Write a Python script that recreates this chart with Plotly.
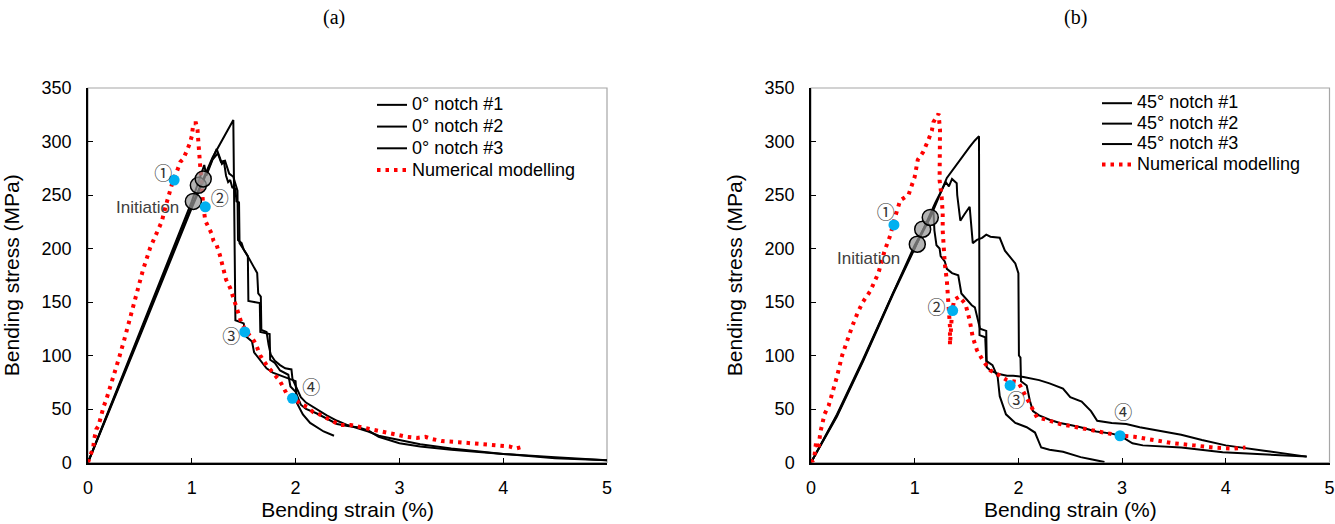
import plotly.graph_objects as go

# ---------------- Panel (a): 0° notch ----------------
a1_x = [0, 0.5, 1.0, 1.2, 1.40, 1.42, 1.50, 1.52, 1.58, 1.60, 1.65, 1.72, 1.78, 1.90, 2.00, 2.01, 2.07, 2.14, 2.27, 2.37]
a1_y = [0, 120, 240, 285, 320, 133, 130, 118, 113, 103, 97, 88, 84, 80, 76, 56, 45, 37, 29, 25]

a2_x = [0, 0.5, 1.0, 1.24, 1.27, 1.29, 1.31, 1.33, 1.35, 1.37, 1.39, 1.42, 1.43, 1.455, 1.46, 1.49, 1.52, 1.54,
        1.545, 1.60, 1.655, 1.66, 1.75, 1.755, 1.80, 1.85, 1.93, 1.95, 2.0, 2.05, 2.1, 2.2, 2.3, 2.4, 2.5, 2.6,
        2.7, 2.8, 2.9, 3.0, 3.2, 3.5, 4.0, 4.5, 5.0]
a2_y = [0, 118, 238, 293, 285, 279, 281, 268, 262, 264, 257, 256, 244, 243, 205, 201, 196, 193,
        151, 150, 149, 122, 120, 96, 93, 86, 82, 71, 66, 54, 50, 46, 41, 36, 34, 33,
        30, 24, 21, 18, 15, 12, 8, 4, 2]

a3_x = [0, 0.5, 1.0, 1.12, 1.14, 1.20, 1.25, 1.28, 1.32, 1.36, 1.40, 1.44, 1.445, 1.48, 1.50, 1.55, 1.58, 1.61,
        1.63, 1.64, 1.665, 1.67, 1.72, 1.74, 1.76, 1.80, 1.85, 1.90, 1.96, 1.97, 2.0, 2.05, 2.1, 2.2, 2.3, 2.4,
        2.5, 2.6, 2.7, 2.8, 2.9, 3.0, 3.2, 3.5, 4.0, 4.5, 5.0]
a3_y = [0, 122, 244, 278, 268, 283, 289, 281, 282, 270, 267, 254, 208, 205, 199, 191, 186, 181,
        177, 158, 155, 124, 122, 110, 101, 95, 91, 88, 87, 78, 72, 61, 56, 50, 44, 39,
        35, 32, 29, 25, 23, 21, 17, 13, 8, 5, 2]

num_a_x = [0, 0.02, 0.05, 0.06, 0.08, 0.10, 0.12, 0.15, 0.18, 0.22, 0.26, 0.30, 0.35, 0.40, 0.45, 0.50, 0.53,
           0.60, 0.66, 0.71, 0.75, 0.79, 0.82, 0.86, 0.89, 0.92, 0.95, 0.98, 1.00, 1.015, 1.04, 1.055, 1.063,
           1.07, 1.08, 1.09, 1.10, 1.11, 1.13, 1.16, 1.19, 1.21, 1.24, 1.27, 1.29, 1.30, 1.33, 1.37, 1.40,
           1.42, 1.45, 1.48, 1.53, 1.56, 1.59, 1.61, 1.66, 1.72, 1.78, 1.85, 1.91, 1.99, 2.04, 2.11, 2.17,
           2.23, 2.33, 2.43, 2.53, 2.63, 2.75, 2.87, 2.95, 3.07, 3.17, 3.25, 3.31, 3.41, 3.57, 3.73, 3.83,
           3.97, 4.06, 4.12, 4.2]
num_a_y = [0, 6, 14, 22, 31, 34, 42, 52, 60, 72, 85, 98, 115, 133, 150, 168, 180,
           201, 213, 225, 240, 254, 264, 273, 281, 284, 290, 298, 305, 317, 317, 311, 300,
           290, 276, 262, 250, 240, 226, 220, 214, 207, 203, 194, 187, 180, 171, 163, 154,
           146, 138, 130, 122, 119, 115, 112, 100, 91, 84, 76, 65, 60, 55, 52, 47,
           45, 40, 35, 35, 33, 30, 28, 26, 24, 23, 24, 22, 20, 19, 18, 17,
           16, 15, 13, 15]

init_a_x = [1.015, 1.063, 1.11]
init_a_y = [244, 259, 265]
stage_a_x = [0.83, 1.13, 1.51, 1.97]
stage_a_y = [264, 239, 122, 60]
stage_a_lab_x = [0.725, 1.27, 1.38, 2.15]
stage_a_lab_y = [268, 245, 116, 68]

# ---------------- Panel (b): 45° notch ----------------
b1_x = [0, 0.25, 0.5, 0.79, 1.0, 1.15, 1.31, 1.45, 1.53, 1.58, 1.62, 1.625, 1.68, 1.69, 1.75, 1.80, 1.82,
        1.88, 1.97, 2.08, 2.16, 2.22, 2.3, 2.43, 2.6, 2.7, 2.83]
b1_y = [0, 44, 95, 158, 201, 229, 266, 285, 295, 301, 305, 119, 117, 95, 91, 80, 62,
        45, 37, 33, 28, 14, 12, 10, 5, 3, 0.5]

b2_x = [0, 0.25, 0.5, 0.79, 1.0, 1.077, 1.2, 1.30, 1.33, 1.36, 1.405, 1.41, 1.44, 1.48, 1.53, 1.56, 1.60,
        1.65, 1.69, 1.73, 1.82, 1.87, 1.92, 1.97, 2.0, 2.005, 2.02, 2.025, 2.08, 2.11, 2.14, 2.2, 2.3, 2.4,
        2.5, 2.6, 2.75, 2.9, 2.98, 3.1, 3.2, 3.57, 3.97, 4.37, 4.78]
b2_y = [0, 43, 94, 157, 200, 217, 243, 262, 258, 265, 261, 250, 226, 232, 239, 205, 208,
        210, 213, 211, 210, 198, 192, 186, 177, 100, 98, 76, 72, 58, 48, 44, 40, 37,
        35, 33, 29, 27, 25, 18, 16, 14, 9.5, 7.5, 5.5]

b3_x = [0, 0.25, 0.5, 0.79, 1.0, 1.15, 1.18, 1.19, 1.21, 1.24, 1.25, 1.29, 1.31, 1.36, 1.42, 1.45, 1.50,
        1.55, 1.58, 1.60, 1.63, 1.69, 1.695, 1.73, 1.80, 1.89, 1.95, 2.05, 2.2, 2.3, 2.43, 2.5, 2.61, 2.7,
        2.76, 2.9, 3.04, 3.17, 3.4, 3.57, 3.77, 4.0, 4.37, 4.78]
b3_y = [0, 45, 96, 159, 203, 230, 236, 217, 203, 200, 193, 188, 181, 177, 175, 158, 152,
        147, 145, 136, 125, 123, 89, 86, 83, 81, 81, 80, 77, 74, 69, 61, 57, 48,
        39, 37, 36, 33, 29, 26, 21, 16, 11, 5.5]

num_b_x = [0, 0.03, 0.05, 0.07, 0.09, 0.11, 0.13, 0.17, 0.20, 0.25, 0.30, 0.35, 0.40, 0.45, 0.50, 0.57,
           0.65, 0.71, 0.76, 0.81, 0.86, 0.94, 1.00, 1.03, 1.08, 1.13, 1.165, 1.18, 1.23, 1.244, 1.24,
           1.24, 1.24, 1.26, 1.27, 1.27, 1.28, 1.29, 1.31, 1.32, 1.34, 1.34, 1.36, 1.38, 1.43, 1.49,
           1.53, 1.56, 1.60, 1.66, 1.73, 1.79, 1.89, 2.0, 2.06, 2.11, 2.18, 2.27, 2.4, 2.56, 2.72,
           2.85, 2.98, 3.12, 3.3, 3.49, 3.69, 3.88, 4.07, 4.19]
num_b_y = [0, 3, 20, 12, 28, 37, 45, 53, 62, 80, 100, 115, 128, 140, 150, 160,
           177, 198, 211, 229, 245, 250, 267, 283, 290, 301, 310, 318, 326, 311, 295,
           279, 264, 248, 233, 217, 201, 186, 170, 155, 127, 110, 140, 152, 155, 148,
           133, 117, 105, 95, 86, 83, 77, 75, 64, 55, 42, 40, 36, 33, 30,
           28, 25, 24, 21, 18, 16, 14, 13, 14]

init_b_x = [1.025, 1.077, 1.15]
init_b_y = [204, 218, 229]
stage_b_x = [0.80, 1.366, 1.92, 2.98]
stage_b_y = [222, 142, 72, 25]
stage_b_lab_x = [0.72, 1.21, 1.98, 3.01]
stage_b_lab_y = [232, 143, 56, 45]

stage_labels = ["①", "②", "③", "④"]
x_ticks = [0, 1, 2, 3, 4, 5]
y_ticks = [0, 50, 100, 150, 200, 250, 300, 350]

FONT = "Arial, Liberation Sans, sans-serif"
BLUE = "#00B0F0"
fig = go.Figure()


def legname(s):
    return '<span style="font-size:18px">' + s + '</span>'


def add_panel(xa, ya, leg, exp, num, init, stage, labs):
    for (xs, ys, name) in exp:
        fig.add_trace(go.Scatter(x=xs, y=ys, mode="lines", name=legname(name), xaxis=xa, yaxis=ya,
                                 legend=leg, line=dict(color="black", width=2)))
    fig.add_trace(go.Scatter(x=num[0], y=num[1], mode="lines", name=legname("Numerical modelling"),
                             xaxis=xa, yaxis=ya, legend=leg,
                             line=dict(color="#FF0000", width=4, dash="3.5px,5px")))
    fig.add_trace(go.Scatter(x=init[0], y=init[1], mode="markers", showlegend=False, xaxis=xa, yaxis=ya,
                             marker=dict(size=16, color="rgba(150,150,150,0.72)",
                                         line=dict(color="black", width=1.5))))
    fig.add_trace(go.Scatter(x=stage[0], y=stage[1], mode="markers", showlegend=False, xaxis=xa, yaxis=ya,
                             marker=dict(size=11, color=BLUE)))
    fig.add_trace(go.Scatter(x=labs[0], y=labs[1], mode="text", text=stage_labels, showlegend=False,
                             xaxis=xa, yaxis=ya,
                             textfont=dict(size=18, color="#333333", family="Noto Sans CJK JP")))


add_panel("x", "y", "legend",
          [(a1_x, a1_y, "0° notch #1"), (a2_x, a2_y, "0° notch #2"), (a3_x, a3_y, "0° notch #3")],
          (num_a_x, num_a_y), (init_a_x, init_a_y), (stage_a_x, stage_a_y), (stage_a_lab_x, stage_a_lab_y))
add_panel("x2", "y2", "legend2",
          [(b1_x, b1_y, "45° notch #1"), (b2_x, b2_y, "45° notch #2"), (b3_x, b3_y, "45° notch #3")],
          (num_b_x, num_b_y), (init_b_x, init_b_y), (stage_b_x, stage_b_y), (stage_b_lab_x, stage_b_lab_y))

W, H = 1335, 524
ydom = [(524 - 462.5) / H, (524 - 88) / H]
xdom1 = [88 / W, 607 / W]
xdom2 = [811 / W, 1329.5 / W]

xax = dict(range=[0, 5], tickvals=x_ticks, ticks="inside", ticklen=5, tickcolor="black",
           showline=True, linecolor="black", linewidth=1.5, showgrid=False, zeroline=False,
           automargin=False,
           tickfont=dict(size=18, color="black", family=FONT), ticklabelstandoff=8,
           title=dict(text="Bending strain (%)", font=dict(size=21, color="black", family=FONT), standoff=4))
yax = dict(range=[0, 350], tickvals=y_ticks, ticks="inside", ticklen=5, tickcolor="black",
           showline=True, linecolor="black", linewidth=1.5, showgrid=False, zeroline=False,
           automargin=False,
           tickfont=dict(size=18, color="black", family=FONT), ticklabelstandoff=11,
           title=dict(text="Bending stress (MPa)", font=dict(size=21, color="black", family=FONT), standoff=16))

leg_base = dict(bgcolor="rgba(0,0,0,0)", xanchor="left", yanchor="top", tracegroupgap=0, itemwidth=30)

fig.update_layout(
    width=W, height=H, margin=dict(l=0, r=0, t=0, b=0, autoexpand=False),
    paper_bgcolor="white", plot_bgcolor="white",
    xaxis=dict(domain=xdom1, anchor="y", **xax),
    yaxis=dict(domain=ydom, anchor="x", **yax),
    xaxis2=dict(domain=xdom2, anchor="y2", **xax),
    yaxis2=dict(domain=ydom, anchor="x2", **yax),
    legend=dict(x=372 / W, y=(524 - 89) / H, font=dict(size=14.4, color="black", family=FONT), **leg_base),
    legend2=dict(x=1097 / W, y=(524 - 88) / H, font=dict(size=13.4, color="black", family=FONT), **leg_base),
    showlegend=True,
    shapes=[
        dict(type="rect", xref="x domain", yref="y domain", x0=0, x1=1, y0=0, y1=1,
             line=dict(color="#A6A6A6", width=1.2), layer="below"),
        dict(type="rect", xref="x2 domain", yref="y2 domain", x0=0, x1=1, y0=0, y1=1,
             line=dict(color="#A6A6A6", width=1.2), layer="below"),
    ],
    annotations=[
        dict(text="(a)", x=334 / W, y=(524 - 17) / H, xref="paper", yref="paper", showarrow=False,
             yanchor="middle", xanchor="center",
             font=dict(size=20, color="black", family="Times New Roman, Liberation Serif, serif")),
        dict(text="(b)", x=1075 / W, y=(524 - 17) / H, xref="paper", yref="paper", showarrow=False,
             yanchor="middle", xanchor="center",
             font=dict(size=20, color="black", family="Times New Roman, Liberation Serif, serif")),
        dict(text="Initiation", x=0.57, y=238, xref="x", yref="y", showarrow=False,
             font=dict(size=17, color="#404040", family=FONT)),
        dict(text="Initiation", x=0.55, y=191, xref="x2", yref="y2", showarrow=False,
             font=dict(size=17, color="#404040", family=FONT)),
    ],
)

fig.write_html("out.html", config={"displayModeBar": False},
               post_script="document.body.style.margin='0';document.body.style.overflow='hidden';")
